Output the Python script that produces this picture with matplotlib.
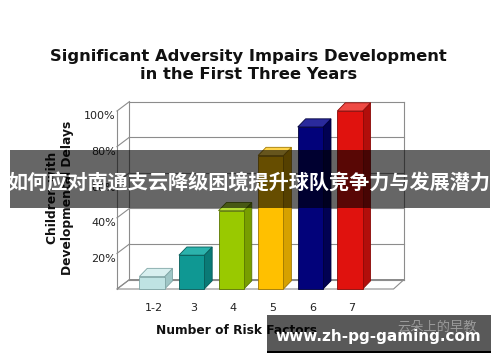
import matplotlib
matplotlib.use("Agg")
import matplotlib.pyplot as plt
from matplotlib.patches import Polygon, Rectangle

categories = ['1-2', '3', '4', '5', '6', '7']
values = [7, 19, 44, 75, 91, 100]
ytick_values = [20, 40, 60, 80, 100]
ytick_labels = ['20%', '40%', '60%', '80%', '100%']
title_text = "Significant Adversity Impairs Development\nin the First Three Years"
ylabel_text = "Children with\nDevelopmental Delays"
xlabel_text = "Number of Risk Factors"
banner_text = "如何应对南通支云降级困境提升球队竞争力与发展潜力"
url_text = "www.zh-pg-gaming.com"
watermark_text = "云朵上的早教"

front_colors = ['#bfe3e3', '#0f9893', '#99c900', '#ffc000', '#02027a', '#e0120e']
side_colors = ['#9fc6c6', '#0a7a76', '#789e00', '#d6a100', '#010152', '#b20e0b']
top_colors = ['#d8efef', '#2cb2ac', '#b3dc33', '#ffd44a', '#2a2a9c', '#ef4a44']
edge_colors = ['#7fa5a5', '#075c59', '#5a7600', '#a07800', '#00003a', '#8a0a08']

fig = plt.figure(figsize=(5.0, 3.62), dpi=100)
ax = fig.add_axes([0, 0, 1, 1])
ax.set_xlim(-3.838, 8.788)
ax.set_ylim(-41.01, 162.36)
ax.axis('off')

# wall geometry (category units / percent)
x_front_l, x_front_r = -0.884, 6.10
wdx, wdy = 0.316, 5.3
x_back_l, x_back_r = x_front_l + wdx, 6.364
ymax = 100
gcol = '#8c8c8c'
glw = 0.8

# floor
ax.add_patch(Polygon([(x_front_l, 0), (x_front_r, 0), (x_back_r, wdy), (x_back_l, wdy)],
                     closed=True, facecolor='white', edgecolor=gcol, lw=glw, zorder=1))
# walls
ax.plot([x_front_l, x_front_l], [0, ymax], color=gcol, lw=glw, zorder=1)
ax.plot([x_back_l, x_back_l], [wdy, ymax + wdy], color=gcol, lw=glw, zorder=1)
ax.plot([x_back_r, x_back_r], [wdy, ymax + wdy], color=gcol, lw=glw, zorder=1)
for v in [0] + ytick_values:
    ax.plot([x_front_l, x_back_l], [v, v + wdy], color=gcol, lw=glw, zorder=1)
    ax.plot([x_back_l, x_back_r], [v + wdy, v + wdy], color=gcol, lw=glw, zorder=1)

# bars
bw = 0.64
bdx, bdy = 0.2, 4.6
for i, (cat, v) in enumerate(zip(categories, values)):
    l, r = i - bw / 2, i + bw / 2
    ec = edge_colors[i]
    ax.add_patch(Polygon([(r, 0), (r + bdx, bdy), (r + bdx, v + bdy), (r, v)], closed=True,
                         facecolor=side_colors[i], edgecolor=ec, lw=0.6, zorder=2))
    ax.add_patch(Polygon([(l, v), (r, v), (r + bdx, v + bdy), (l + bdx, v + bdy)], closed=True,
                         facecolor=top_colors[i], edgecolor=ec, lw=0.6, zorder=2))
    ax.add_patch(Polygon([(l, 0), (r, 0), (r, v), (l, v)], closed=True,
                         facecolor=front_colors[i], edgecolor=ec, lw=0.6, zorder=2))
    ax.text(i + 0.05, -10.5, cat, ha='center', va='center', fontsize=8, color='#222222', zorder=3)

for v, lab in zip(ytick_values, ytick_labels):
    ax.text(x_front_l - 0.03, v - 3, lab, ha='right', va='center', fontsize=8,
            color='#222222', zorder=3)

fig.text(0.497, 1 - 65.5 / 362, title_text, ha='center', va='center', fontsize=11.8,
         fontweight='bold', color='#111111', linespacing=1.25)
fig.text(60 / 500, 1 - 198 / 362, ylabel_text, ha='center', va='center', rotation=90,
         fontsize=8.8, fontweight='bold', color='#111111', linespacing=1.15)
fig.text(236 / 500, 1 - 330 / 362, xlabel_text, ha='center', va='center',
         fontsize=8.8, fontweight='bold', color='#111111')

# overlay banners
fig.patches.append(Rectangle((10 / 500, 1 - 208 / 362), 480 / 500, 58 / 362,
                             transform=fig.transFigure, facecolor='black', alpha=0.6,
                             edgecolor='none', zorder=10))
fig.text(249 / 500, 1 - 182 / 362, banner_text, ha='center', va='center', fontsize=14.5,
         fontweight='bold', color='white', family=['Noto Sans CJK SC', 'DejaVu Sans'],
         zorder=11)

fig.patches.append(Rectangle((267 / 500, 1 - 352 / 362), 224 / 500, 37 / 362,
                             transform=fig.transFigure, facecolor='black', alpha=0.65,
                             edgecolor='none', zorder=10))
fig.patches.append(Rectangle((267 / 500, 1 - 353 / 362), 224 / 500, 2 / 362,
                             transform=fig.transFigure, facecolor='black',
                             edgecolor='none', zorder=10))
fig.text(437 / 500, 1 - 327 / 362, watermark_text, ha='center', va='center', fontsize=9.5,
         color='#9a9a9a', family=['Noto Sans CJK SC', 'DejaVu Sans'], zorder=11)
fig.text(378 / 500, 1 - 337 / 362, url_text, ha='center', va='center', fontsize=11,
         fontweight='bold', color='white', zorder=12)

fig.savefig('out.png', dpi=100)
